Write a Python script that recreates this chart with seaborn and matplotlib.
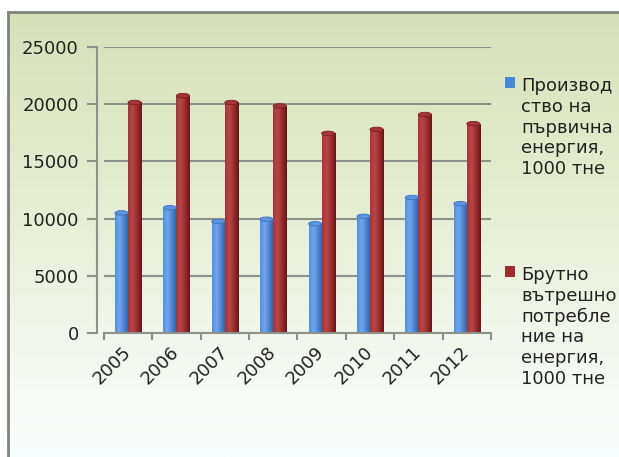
import numpy as np
import pandas as pd
import matplotlib
matplotlib.use("Agg")
import matplotlib.pyplot as plt
import seaborn as sns
from matplotlib.colors import LinearSegmentedColormap
from matplotlib.patches import Patch, Ellipse

years = ["2005", "2006", "2007", "2008", "2009", "2010", "2011", "2012"]
production = [10500, 10950, 9750, 9950, 9550, 10200, 11850, 11300]
consumption = [20150, 20750, 20150, 19850, 17450, 17800, 19100, 18300]
series_names = ["Производство на първична енергия, 1000 тне",
                "Брутно вътрешно потребление на енергия, 1000 тне"]
legend_labels = ["Производ\nство на\nпървична\nенергия,\n1000 тне",
                 "Брутно\nвътрешно\nпотребле\nние на\nенергия,\n1000 тне"]
yticks = [0, 5000, 10000, 15000, 20000, 25000]

BLUE = "#4a86d6"
RED = "#9e2c2c"

df = pd.DataFrame({
    "year": years * 2,
    "value": production + consumption,
    "series": [series_names[0]] * len(years) + [series_names[1]] * len(years),
})

sns.set_theme(style="white")
plt.rcParams["font.family"] = ["DejaVu Sans"]

W, H = 619, 457
fig = plt.figure(figsize=(W / 100, H / 100), dpi=100)
fig.patch.set_facecolor("white")

# background panel with gradient and border
bg = fig.add_axes([8 / W, 0, 1 - 8 / W, (H - 12) / H], zorder=0)
grad_cmap = LinearSegmentedColormap.from_list(
    "bg", [(0, "#d6e1b8"), (0.45, "#e6eed5"), (0.85, "#f6fbf6"), (1, "#f8fdfd")])
bg.imshow(np.linspace(0, 1, 256)[:, None], aspect="auto", cmap=grad_cmap,
          extent=[0, 1, 0, 1], origin="upper")
bg.set_xlim(0, 1)
bg.set_ylim(0, 1)
bg.set_xticks([])
bg.set_yticks([])
for s in ["right", "bottom"]:
    bg.spines[s].set_visible(False)
for s in ["left", "top"]:
    bg.spines[s].set_color("#7e827c")
    bg.spines[s].set_linewidth(2)

ax = fig.add_axes([103.8 / W, 1 - 333 / H, (491 - 103.8) / W, (333 - 47) / H], zorder=1)
ax.patch.set_alpha(0)

sns.barplot(data=df, x="year", y="value", hue="series", palette=[BLUE, RED],
            width=0.54, dodge=True, legend=False, ax=ax, saturation=1,
            edgecolor="none", gap=0)

# cylinder-like shading
cm_blue = LinearSegmentedColormap.from_list("cb", ["#5590de", "#6ea6ee", "#4a84d2", "#2c5ca8"])
cm_red = LinearSegmentedColormap.from_list("cr", ["#a63636", "#ba4646", "#9a2b2b", "#661616"])
g = np.linspace(0, 1, 64)[None, :]
cap_h = 4.5 * 25000 / 286.0
for p in list(ax.patches):
    fc = p.get_facecolor()
    is_blue = fc[2] > fc[0]
    cm = cm_blue if is_blue else cm_red
    x0, y0, w, h = p.get_x(), p.get_y(), p.get_width(), p.get_height()
    im = ax.imshow(g, extent=[x0, x0 + w, y0, y0 + h], aspect="auto", cmap=cm,
                   zorder=p.get_zorder() + 0.1, interpolation="bilinear")
    im.set_clip_path(p)
    cap = Ellipse((x0 + w / 2, y0 + h), w, cap_h,
                  facecolor="#5b94e0" if is_blue else "#a53434",
                  edgecolor="#3e74c2" if is_blue else "#7e2020", linewidth=0.6,
                  zorder=p.get_zorder() + 0.2)
    ax.add_patch(cap)
    base = Ellipse((x0 + w / 2, y0), w, cap_h, facecolor=cm(0.9), edgecolor="none",
                   zorder=p.get_zorder() + 0.05)
    ax.add_patch(base)

ax.set_xlim(-0.5, len(years) - 0.5)
ax.set_ylim(0, 25000)
ax.set_yticks(yticks)
ax.set_yticklabels([str(t) for t in yticks])
ax.set_xlabel("")
ax.set_ylabel("")

ax.grid(axis="y", color="#8e918c", linewidth=1.5, zorder=0)
ax.set_axisbelow(True)
for s in ["top", "right"]:
    ax.spines[s].set_visible(False)
ax.spines["left"].set_position(("outward", 5))
ax.spines["left"].set_color("#8e918c")
ax.spines["left"].set_linewidth(1.5)
ax.spines["bottom"].set_color("#8e918c")
ax.spines["bottom"].set_linewidth(1.5)

ax.tick_params(axis="y", which="major", direction="out", length=7, width=1.5,
               color="#8e918c", labelsize=13, labelcolor="#222222", pad=6, left=True)
ax.set_xticks(np.arange(-0.5, len(years), 1.0), minor=True)
ax.tick_params(axis="x", which="minor", direction="out", length=5, width=1.5,
               color="#8e918c", bottom=True)
ax.tick_params(axis="x", which="major", length=0, labelsize=13, labelcolor="#222222", pad=12)
for lbl in ax.get_xticklabels():
    lbl.set_rotation(45)
    lbl.set_ha("right")
    lbl.set_va("center")
    lbl.set_rotation_mode("anchor")

handles = [Patch(facecolor=BLUE, edgecolor="none"), Patch(facecolor=RED, edgecolor="none")]
leg = fig.legend(handles, legend_labels, loc="upper left",
                 bbox_to_anchor=(505 / W, 1 - 77 / H), frameon=False,
                 fontsize=13, handlelength=0.55, handleheight=0.55,
                 handletextpad=0.35, labelspacing=4.85, borderpad=0, borderaxespad=0)
for t in leg.get_texts():
    t.set_color("#222222")
for col in leg._legend_handle_box.get_children():
    for row in col.get_children():
        row.align = "top"

fig.savefig("out.png", dpi=100)
